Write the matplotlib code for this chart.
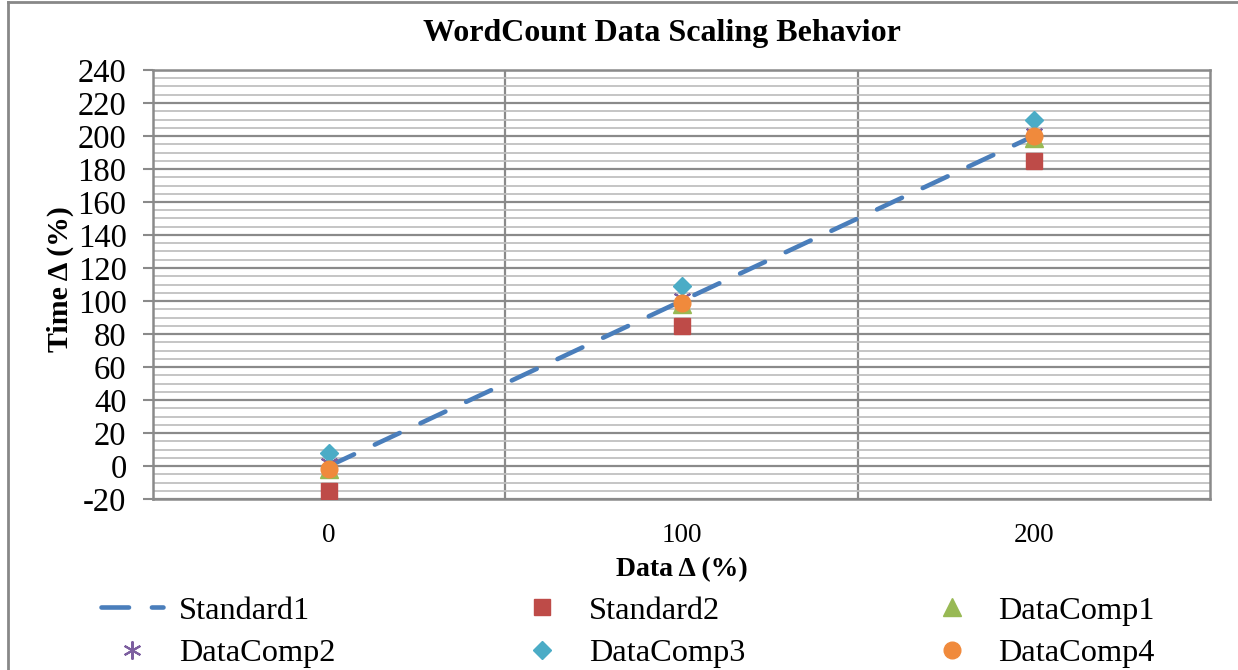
import matplotlib
matplotlib.use("Agg")
import matplotlib.pyplot as plt
from matplotlib.ticker import MultipleLocator, FixedLocator
from matplotlib.lines import Line2D

plt.rcParams['font.family'] = ['Liberation Serif', 'DejaVu Serif']
plt.rcParams['axes.unicode_minus'] = False

# ---- data ----
x_vals = [0, 100, 200]
standard1 = [0, 100, 200]
standard2 = [-15, 85, 185]
datacomp1 = [-2, 98, 199]
datacomp2 = [2, 102, 202]
datacomp3 = [8, 109, 210]
datacomp4 = [-2, 99, 200]
x_tick_labels = ["0", "100", "200"]

title = "WordCount Data Scaling Behavior"
xlabel = "Data Δ (%)"
ylabel = "Time Δ (%)"

W, H = 1238, 670
fig = plt.figure(figsize=(W / 100, H / 100), dpi=100)
ax = fig.add_axes([153 / W, 1 - 499 / H, (1210 - 153) / W, (499 - 70) / H])

grid_major = '#8a8a8a'
grid_minor = '#c0c0c0'

l1, = ax.plot(x_vals, standard1, color='#4A7EBB', lw=3.3, dashes=(6, 5),
              dash_capstyle='round', zorder=2, label='Standard1')
l2, = ax.plot(x_vals, standard2, ls='none', marker='s', ms=11, color='#BE4B48',
              mec='#BE4B48', zorder=3, label='Standard2')
l3, = ax.plot(x_vals, datacomp1, ls='none', marker='^', ms=13.5, color='#98B954',
              mec='#98B954', zorder=4, label='DataComp1')
l4, = ax.plot(x_vals, datacomp2, ls='none', marker=(6, 2, 0), ms=13, color='#7D5FA0',
              mec='#7D5FA0', mew=1.5, zorder=5, label='DataComp2')
l5, = ax.plot(x_vals, datacomp3, ls='none', marker='D', ms=9.5, color='#4BACC6',
              mec='#4BACC6', zorder=6, label='DataComp3')
l6, = ax.plot(x_vals, datacomp4, ls='none', marker='o', ms=12, color='#F08A3C',
              mec='#F08A3C', zorder=7, label='DataComp4')

ax.set_xlim(-50, 250)
ax.set_ylim(-20, 240)
ax.set_xticks(x_vals)
ax.set_xticklabels(x_tick_labels)
ax.xaxis.set_minor_locator(FixedLocator([50, 150]))
ax.yaxis.set_major_locator(MultipleLocator(20))
ax.yaxis.set_minor_locator(MultipleLocator(5))

ax.tick_params(axis='x', which='both', length=0, labelsize=19.5, pad=17)
ax.tick_params(axis='y', which='major', length=7, width=1.5, color=grid_major,
               labelsize=23.5, pad=12, direction='out')
ax.tick_params(axis='y', which='minor', length=0)

ax.xaxis.grid(True, which='minor', color=grid_major, lw=1.6)
ax.yaxis.grid(True, which='major', color=grid_major, lw=1.6)
ax.yaxis.grid(True, which='minor', color=grid_minor, lw=1.3)
ax.set_axisbelow(True)

for s in ax.spines.values():
    s.set_color(grid_major)
    s.set_linewidth(1.8)

fig.text(662 / W, 1 - 33 / H, title, fontsize=23, fontweight='bold', ha='center', va='center')
fig.text((617 + 747) / 2 / W, 1 - 570 / H, xlabel, fontsize=20, fontweight='bold',
         ha='center', va='center')
fig.text(60 / W, 1 - 279 / H, ylabel, fontsize=21.5, fontweight='bold',
         ha='center', va='center', rotation=90)

# legend: row-wise order (col-first fill)
handles = [l1, l4, l2, l5, l3, l6]
fig.legend(handles=handles, labels=[h.get_label() for h in handles], ncol=3,
           loc='center', bbox_to_anchor=(0.5 + 9 / W, 1 - 632 / H), frameon=False,
           fontsize=23.3, handlelength=1.92, handletextpad=0.48, columnspacing=5.43,
           labelspacing=0.4, borderpad=0, borderaxespad=0)

# outer chart border (left and top visible)
fig.add_artist(Line2D([8 / W, 8 / W], [0, 1 - 2 / H], transform=fig.transFigure,
                      color='#888888', lw=2))
fig.add_artist(Line2D([8 / W, 1], [1 - 2 / H, 1 - 2 / H], transform=fig.transFigure,
                      color='#888888', lw=2))

fig.savefig("out.png", dpi=100)
